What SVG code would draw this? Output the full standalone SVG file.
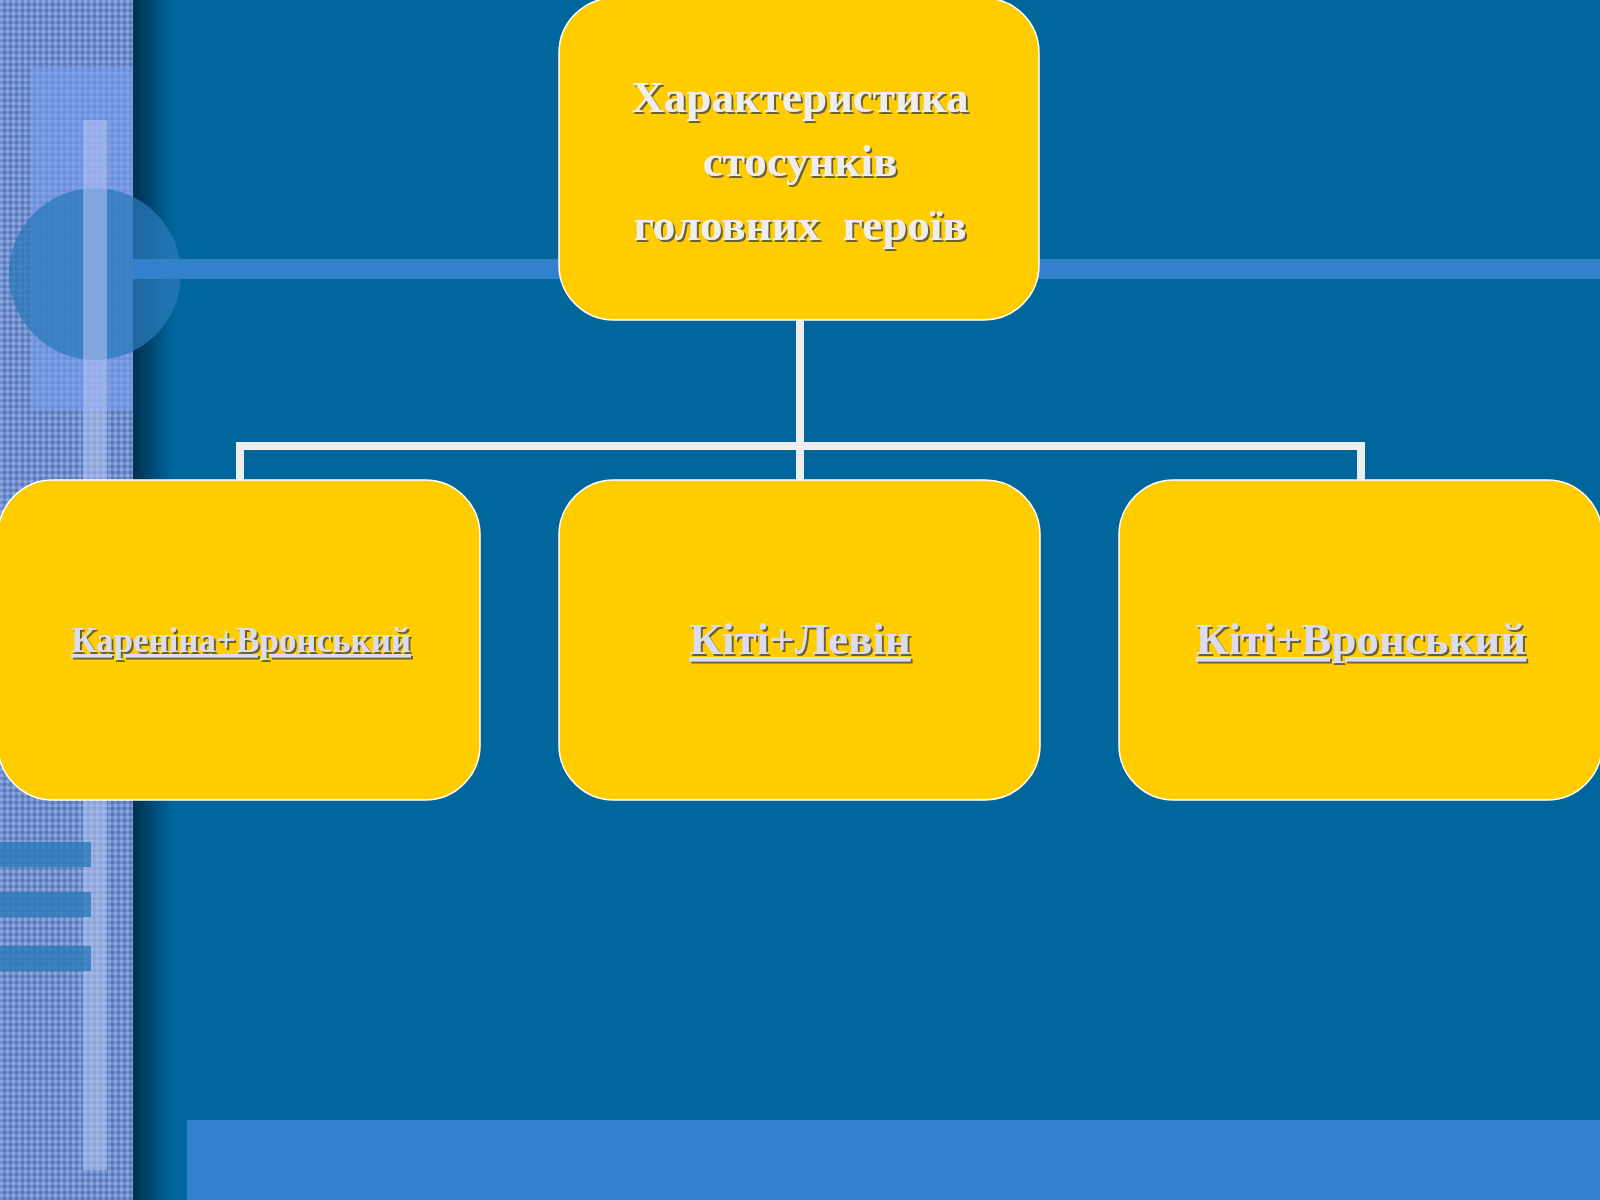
<svg xmlns="http://www.w3.org/2000/svg" width="1600" height="1200" viewBox="0 0 1600 1200">
<defs>
<pattern id="tex" width="6" height="6" patternUnits="userSpaceOnUse">
<rect width="6" height="6" fill="#6f8fcc"/>
<rect width="3" height="3" fill="#8aa6dc"/>
<rect x="3" y="3" width="3" height="3" fill="#5a78b8"/>
</pattern>
<linearGradient id="edge" x1="0" x2="1" y1="0" y2="0">
<stop offset="0" stop-color="#00304f"/>
<stop offset="1" stop-color="#00669c"/>
</linearGradient>
<filter id="sh" x="-10%" y="-10%" width="120%" height="130%">
<feDropShadow dx="2" dy="2" stdDeviation="0.5" flood-color="#444" flood-opacity="0.8"/>
</filter>
</defs>
<style>
.box{fill:#ffcc00;stroke:#ffffff;stroke-width:1.5}
.t{font-family:"Liberation Serif",serif;font-weight:bold;fill:#eeeeee;text-anchor:middle;filter:url(#sh)}
.u{font-family:"Liberation Serif",serif;font-weight:bold;fill:#dcdcf0;text-anchor:middle;text-decoration:underline;filter:url(#sh)}
.c{stroke:#eeeeee;stroke-width:8;fill:none}
</style>
<rect width="1600" height="1200" fill="#00669c"/>
<rect x="133" y="0" width="40" height="1200" fill="url(#edge)"/>
<rect x="0" y="0" width="133" height="1200" fill="url(#tex)"/>
<rect x="31" y="68" width="102" height="342" fill="#7a9cf0" opacity="0.6"/>
<circle cx="95" cy="274" r="86" fill="#2a7ab8" opacity="0.75"/>
<rect x="83" y="120" width="24" height="1050" fill="#b8c4f4" opacity="0.55"/>
<rect x="0" y="842" width="91" height="25" fill="#2a7ab8" opacity="0.8"/>
<rect x="0" y="892" width="91" height="25" fill="#2a7ab8" opacity="0.8"/>
<rect x="0" y="946" width="91" height="25" fill="#2a7ab8" opacity="0.8"/>
<rect x="133" y="259" width="1467" height="20" fill="#3380cc"/>
<rect x="187" y="1120" width="1413" height="80" fill="#3380cc"/>
<g id="connectors">
<path class="c" d="M800 320 V446 M240 480 V446 H1361 V480 M800 446 V480"/>
</g>
<g id="top">
<rect class="box" x="559" y="-2" width="480" height="322" rx="55"/>
<text class="t" x="800" y="112" font-size="45">Характеристика</text>
<text class="t" x="800" y="176" font-size="45">стосунків</text>
<text class="t" x="800" y="240" font-size="45" xml:space="preserve">головних  героїв</text>
</g>
<g id="n1">
<rect class="box" x="-2" y="480" width="482" height="320" rx="55"/>
<text class="u" x="241" y="652" font-size="35">Кареніна+Вронський</text>
</g>
<g id="n2">
<rect class="box" x="559" y="480" width="481" height="320" rx="55"/>
<text class="u" x="800" y="654" font-size="45">Кіті+Левін</text>
</g>
<g id="n3">
<rect class="box" x="1119" y="480" width="483" height="320" rx="55"/>
<text class="u" x="1361" y="654" font-size="45">Кіті+Вронський</text>
</g>
</svg>
